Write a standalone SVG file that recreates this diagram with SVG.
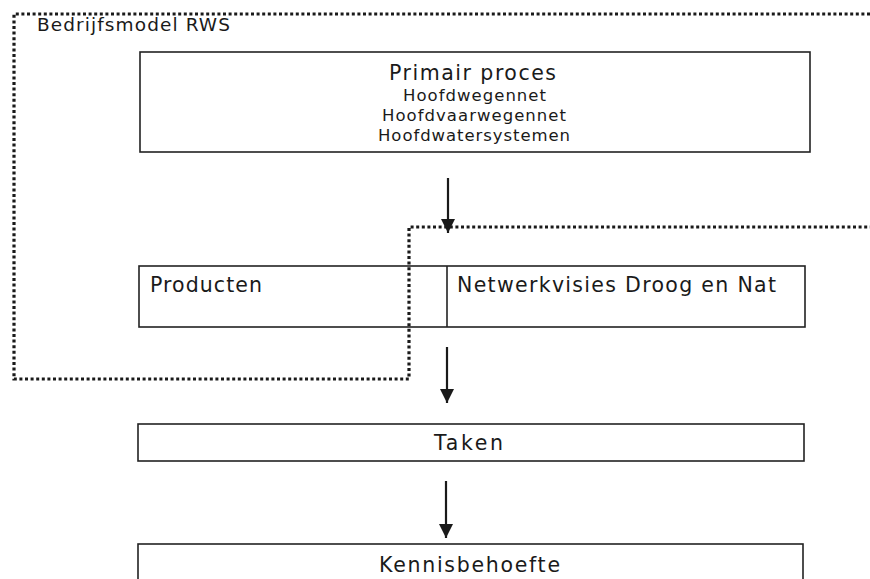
<svg xmlns="http://www.w3.org/2000/svg" width="870" height="579" viewBox="0 0 870 579">
<defs>
<style>
.box{fill:none;stroke:#222;stroke-width:1.6}
.dot{fill:none;stroke:#1a1a1a;stroke-width:3.2;stroke-dasharray:3 2.6}
.arr{fill:none;stroke:#1a1a1a;stroke-width:2.2}
.t{font-family:"DejaVu Sans",Verdana,sans-serif;fill:#1a1a1a}
.big{font-size:20.5px}
.sm{font-size:16.5px}
</style>
<marker id="ah2" viewBox="0 0 14 14" refX="14" refY="7" markerWidth="14" markerHeight="14" markerUnits="userSpaceOnUse" orient="auto">
<path d="M0,0 L14,7 L0,14 Z" fill="#1a1a1a"/>
</marker>
</defs>
<rect width="870" height="579" fill="#fff"/>
<g id="bedrijfsmodel">
<path class="dot" d="M870,14 H14 V379 H409 V227 H870"/>
<text class="t" x="37" y="31" font-size="18.5" textLength="193" lengthAdjust="spacing">Bedrijfsmodel RWS</text>
</g>
<g id="primair-proces">
<rect class="box" x="140" y="52" width="670" height="100"/>
<text class="t big" x="389" y="80" textLength="167" lengthAdjust="spacing">Primair proces</text>
<text class="t sm" x="403" y="101" textLength="143" lengthAdjust="spacing">Hoofdwegennet</text>
<text class="t sm" x="382" y="121" textLength="184" lengthAdjust="spacing">Hoofdvaarwegennet</text>
<text class="t sm" x="378" y="141" textLength="192" lengthAdjust="spacing">Hoofdwatersystemen</text>
</g>
<g id="producten">
<rect class="box" x="139" y="266" width="666" height="61"/>
<line class="box" x1="447" y1="266" x2="447" y2="327"/>
<text class="t big" x="150" y="292" textLength="112" lengthAdjust="spacing">Producten</text>
<text class="t big" x="457" y="292" textLength="319" lengthAdjust="spacing">Netwerkvisies Droog en Nat</text>
</g>
<g id="taken">
<rect class="box" x="138" y="424" width="666" height="37"/>
<text class="t big" x="434" y="450" textLength="69" lengthAdjust="spacing">Taken</text>
</g>
<g id="kennisbehoefte">
<rect class="box" x="138" y="544" width="665" height="45"/>
<text class="t big" x="379" y="572" textLength="181" lengthAdjust="spacing">Kennisbehoefte</text>
</g>
<g id="connectors">
<line class="arr" x1="448" y1="178" x2="448" y2="233" marker-end="url(#ah2)"/>
<line class="arr" x1="447" y1="347" x2="447" y2="403" marker-end="url(#ah2)"/>
<line class="arr" x1="446" y1="481" x2="446" y2="538" marker-end="url(#ah2)"/>
</g>
</svg>
